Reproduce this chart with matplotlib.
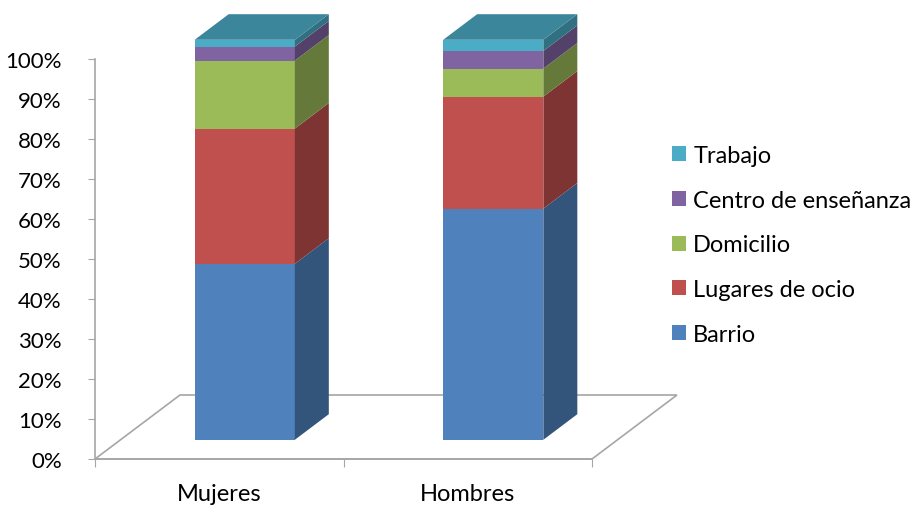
import matplotlib
matplotlib.use('Agg')
import matplotlib.pyplot as plt
from matplotlib.patches import Polygon, Patch
from matplotlib.ticker import FuncFormatter

# data (percent of each group)
groups = ['Mujeres', 'Hombres']
series = ['Barrio', 'Lugares de ocio', 'Domicilio', 'Centro de enseñanza', 'Trabajo']
mujeres = [44.0, 33.8, 17.0, 3.5, 1.7]
hombres = [57.8, 28.0, 7.0, 4.4, 2.8]
colors = ['#4F81BD', '#C0504D', '#9BBB59', '#8064A2', '#4BACC6']


def shade(c, f):
    c = c.lstrip('#')
    r, g, b = (int(c[i:i + 2], 16) for i in (0, 2, 4))
    return (r * f / 255, g * f / 255, b * f / 255)


plt.rcParams['font.family'] = ['Lato', 'DejaVu Sans']

fig = plt.figure(figsize=(9.21, 5.06), dpi=100)
ax = fig.add_axes([95 / 921, 46 / 506, 497 / 921, 400 / 506])
ax.set_xlim(0, 2)
ax.set_ylim(0, 100)

# oblique projection for the fake 3D look
DX, DY = 0.342, 16.0      # full floor depth in data units
d_front, d_back = 0.3, 0.7
bar_w = 0.403
gray = '#A6A6A6'

# floor
floor = Polygon([(0, 0), (2, 0), (2 + DX, DY), (DX, DY)], closed=True,
                fill=False, edgecolor=gray, lw=1.2, clip_on=False, zorder=1)
ax.add_patch(floor)

for i, vals in enumerate([mujeres, hombres]):
    cx = i + 0.5 + d_front * DX
    x0, x1 = cx - bar_w / 2, cx + bar_w / 2
    yf = d_front * DY
    ddx, ddy = (d_back - d_front) * DX, (d_back - d_front) * DY
    bottom = 0
    for v, c in zip(vals, colors):
        a, b = bottom + yf, bottom + v + yf
        ax.add_patch(Polygon([(x0, a), (x1, a), (x1, b), (x0, b)],
                             facecolor=c, lw=0, clip_on=False, zorder=3))
        ax.add_patch(Polygon([(x1, a), (x1 + ddx, a + ddy), (x1 + ddx, b + ddy), (x1, b)],
                             facecolor=shade(c, 0.65), lw=0, clip_on=False, zorder=3))
        bottom += v
    top = bottom + yf
    ax.add_patch(Polygon([(x0, top), (x1, top), (x1 + ddx, top + ddy), (x0 + ddx, top + ddy)],
                         facecolor=shade(colors[-1], 0.78), lw=0, clip_on=False, zorder=3))

# axes styling
for s in ['top', 'right']:
    ax.spines[s].set_visible(False)
for s in ['left', 'bottom']:
    ax.spines[s].set_color(gray)
    ax.spines[s].set_linewidth(1.2)
ax.set_yticks(range(0, 101, 10))
ax.yaxis.set_major_formatter(FuncFormatter(lambda v, p: f'{v:.0f}%'))
ax.set_xticks([0, 1, 2])
ax.set_xticklabels([])
ax.set_xticks([0.5, 1.5], minor=True)
ax.set_xticklabels(groups, minor=True)
ax.tick_params(axis='y', direction='out', length=5, color=gray, labelsize=16, pad=19)
ax.tick_params(axis='x', which='major', direction='out', length=6, color=gray)
ax.tick_params(axis='x', which='minor', length=0, labelsize=17, pad=17)
ax.patch.set_visible(False)

handles = [Patch(facecolor=c) for c in colors][::-1]
fig.legend(handles, series[::-1], loc='center left', bbox_to_anchor=(672 / 921, 0.514),
           frameon=False, fontsize=17, handlelength=0.6, handleheight=0.6,
           handletextpad=0.3, labelspacing=1.0, borderpad=0, borderaxespad=0)

fig.savefig('out.png', dpi=100)
